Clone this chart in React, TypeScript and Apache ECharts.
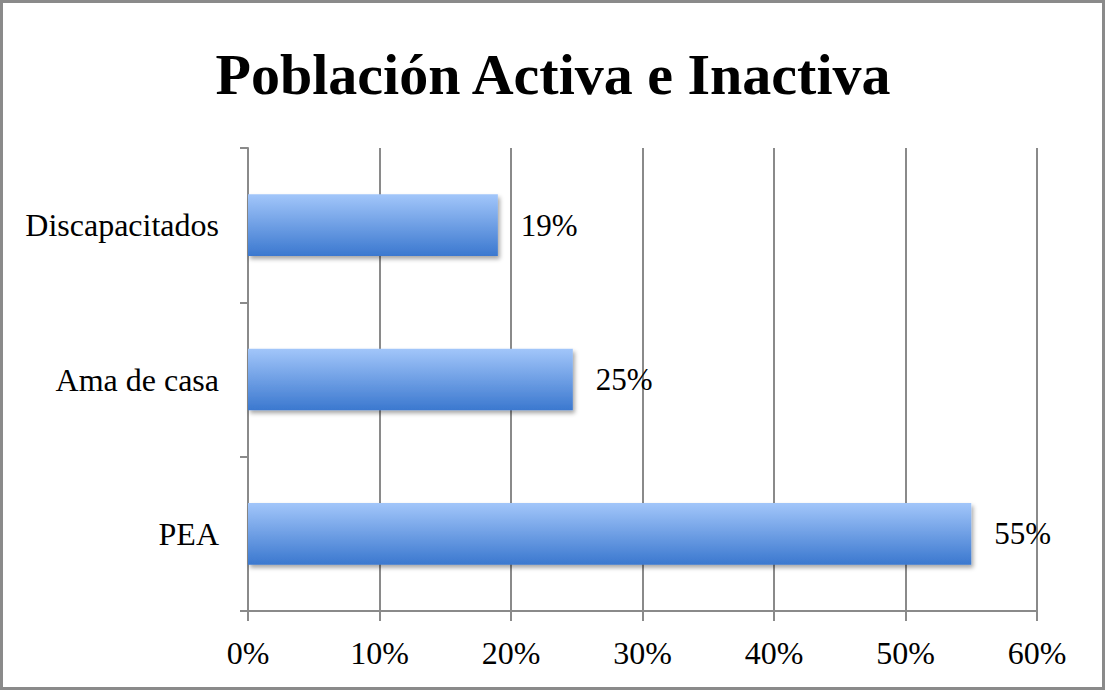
import React, { useEffect, useRef } from "react";
import * as echarts from "echarts";

const categories = ["Discapacitados", "Ama de casa", "PEA"];
const values = [19.0, 24.7, 55.0];
const xTicks = [0, 10, 20, 30, 40, 50, 60];
const title = "Población Activa e Inactiva";

export default function App() {
  const ref = useRef<HTMLDivElement>(null);
  useEffect(() => {
    if (!ref.current) return;
    const chart = echarts.init(ref.current, null, { renderer: "svg" });
    const gray = "#8a8a8a";
    const font = "'Liberation Serif', serif";
    chart.setOption({
      animation: false,
      backgroundColor: "#ffffff",
      title: {
        text: title,
        left: "center",
        top: 40,
        textStyle: { fontFamily: font, fontWeight: "bold", fontSize: 58, color: "#000" },
      },
      graphic: [
        {
          type: "rect",
          shape: { x: 1.5, y: 1.5, width: 1102, height: 687 },
          style: { fill: "none", stroke: gray, lineWidth: 3 },
          silent: true,
        },
      ],
      grid: { left: 248, right: 69, top: 148, bottom: 80, containLabel: false },
      xAxis: {
        type: "value",
        min: xTicks[0],
        max: xTicks[xTicks.length - 1],
        interval: 10,
        axisLine: { show: true, lineStyle: { color: gray, width: 2 } },
        axisTick: { show: true, length: 10, lineStyle: { color: gray, width: 2 } },
        splitLine: { show: true, lineStyle: { color: gray, width: 2 } },
        axisLabel: {
          formatter: (v: number) => `${v}%`,
          fontFamily: font,
          fontSize: 32,
          color: "#000",
          margin: 26,
        },
      },
      yAxis: {
        type: "category",
        data: categories,
        inverse: true,
        axisLine: { show: true, lineStyle: { color: gray, width: 2 } },
        axisTick: { show: true, length: 8, alignWithLabel: false, lineStyle: { color: gray, width: 2 } },
        axisLabel: { fontFamily: font, fontSize: 32, color: "#000", margin: 29 },
        splitLine: { show: false },
      },
      series: [
        {
          type: "bar",
          data: values,
          barWidth: "40%",
          itemStyle: {
            color: new echarts.graphic.LinearGradient(0, 0, 0, 1, [
              { offset: 0, color: "#a2c6fa" },
              { offset: 1, color: "#3b78cf" },
            ]),
            shadowColor: "rgba(0,0,0,0.35)",
            shadowBlur: 4,
            shadowOffsetX: 2,
            shadowOffsetY: 3,
          },
          label: {
            show: true,
            position: "right",
            distance: 23,
            formatter: (p: any) => `${Math.round(p.value)}%`,
            fontFamily: font,
            fontSize: 31,
            color: "#000",
          },
        },
      ],
    });
    return () => chart.dispose();
  }, []);
  return (
    <div
      ref={ref}
      style={{ position: "absolute", left: 0, top: 0, width: 1106, height: 691 }}
    />
  );
}
